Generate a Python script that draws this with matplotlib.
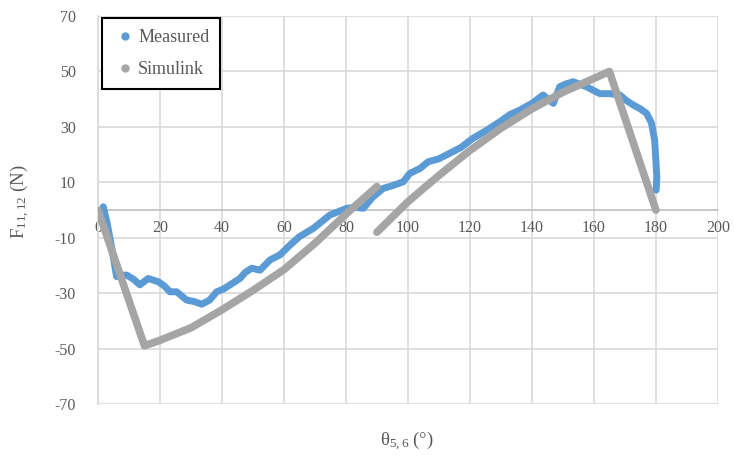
import matplotlib
matplotlib.use('Agg')
import matplotlib.pyplot as plt
from matplotlib.lines import Line2D

# Measured force vs angle
meas_x = [1.7, 3, 4.5, 6, 7.5, 9.3, 11.5, 13.5, 16.2, 19.5, 21.5, 23.2, 25.4, 27, 28.6,
          31, 33.5, 36, 38.3, 40.5, 42.6, 45.8, 47.5, 49.6, 52.3, 55.5, 58.7, 62, 65,
          69.5, 74.8, 80.2, 83, 85.6, 88.5, 92, 95, 98.5, 100.6, 103.9, 106.5, 110,
          113.5, 117, 121, 125, 129.7, 133, 136, 140, 143.6, 146.9, 149, 151, 153.3,
          157.6, 161.9, 165.2, 168.4, 170.5, 172.7, 175, 177, 178.6, 179.6, 180, 180.3, 180.1]
meas_y = [1.2, -5, -14, -24, -23.5, -23.5, -25, -27, -24.7, -25.9, -27.5, -29.5, -29.5,
          -31, -32.5, -33, -34, -32.5, -29.5, -28.5, -27, -24.7, -22.5, -21, -21.7, -18,
          -16.2, -12.6, -9.6, -6.6, -1.8, 0.6, 1, 0.6, 4.5, 7.8, 8.8, 10.2, 13.2, 15,
          17.4, 18.5, 20.5, 22.5, 25.9, 28.5, 31.9, 34.5, 36, 38.5, 41.5, 38.5, 44.5,
          45.5, 46.3, 44.5, 42, 42, 41.5, 39.5, 37.9, 36.5, 34.9, 31.3, 25.3, 18, 12, 7.2]

# Simulink model output (None = break between the two branches)
sim_x = [0, 15, 20, 30, 40, 50, 60, 70, 80, 90, None,
         90, 100, 110, 120, 130, 140, 150, 160, 165, 180]
sim_y = [0, -49, -47, -42.5, -36, -29, -21.5, -12, -1.5, 8.5, None,
         -8, 3, 12.5, 21.5, 29.5, 36.5, 42.5, 47.5, 50, 0]

blue = '#5B9BD5'
gray = '#A5A5A5'
txt = '#595959'

plt.rcParams['font.family'] = 'Liberation Serif'
plt.rcParams['mathtext.fontset'] = 'custom'
plt.rcParams['mathtext.rm'] = 'Liberation Serif'
plt.rcParams['mathtext.it'] = 'Liberation Serif'
plt.rcParams['axes.unicode_minus'] = False

fig = plt.figure(figsize=(7.34, 4.59), dpi=100)
ax = fig.add_axes([0.1335, 0.1198, 0.8445, 0.8452])

ax.plot(meas_x, meas_y, color=blue, lw=5, solid_capstyle='round',
        solid_joinstyle='round', zorder=3)
sx = [v if v is not None else float('nan') for v in sim_x]
sy = [v if v is not None else float('nan') for v in sim_y]
ax.plot(sx, sy, color=gray, lw=5.5, solid_capstyle='round',
        solid_joinstyle='round', zorder=4)

ax.set_xlim(0, 200)
ax.set_ylim(-70, 70)
ax.set_xticks(range(0, 201, 20))
ax.set_yticks(range(-70, 71, 20))
ax.grid(True, color='#D9D9D9', lw=1.2, zorder=0)
ax.set_axisbelow(True)

for s in ['top', 'right']:
    ax.spines[s].set_visible(False)
ax.spines['left'].set_color('#D9D9D9')
ax.spines['left'].set_linewidth(1.2)
ax.spines['bottom'].set_position(('data', 0))
ax.spines['bottom'].set_color('#BFBFBF')
ax.spines['bottom'].set_linewidth(1.2)
ax.tick_params(length=0, labelsize=11.5, labelcolor=txt)
ax.tick_params(axis='y', pad=16)
ax.tick_params(axis='x', pad=7)

fig.text(0.027, 0.56, r'F$_{\mathrm{11,12}}$ (N)', rotation=90, ha='center', va='center',
         fontsize=13.5, color=txt)
fig.text(0.555, 0.04, r'θ$_{\mathrm{5,6}}$ (°)', ha='center', va='center',
         fontsize=13.5, color=txt)

handles = [Line2D([], [], ls='', marker='o', ms=5, color=blue),
           Line2D([], [], ls='', marker='o', ms=5, color=gray)]
leg = ax.legend(handles, ['Measured', 'Simulink'], loc='upper left',
                bbox_to_anchor=(0.0065, 0.995), borderaxespad=0, fontsize=13,
                handletextpad=0.1, handlelength=1.3, labelspacing=0.85,
                borderpad=0.6, fancybox=False, framealpha=1)
leg.get_frame().set_edgecolor('black')
leg.get_frame().set_linewidth(1.5)
for t in leg.get_texts():
    t.set_color(txt)

fig.savefig('out.png', dpi=100)
